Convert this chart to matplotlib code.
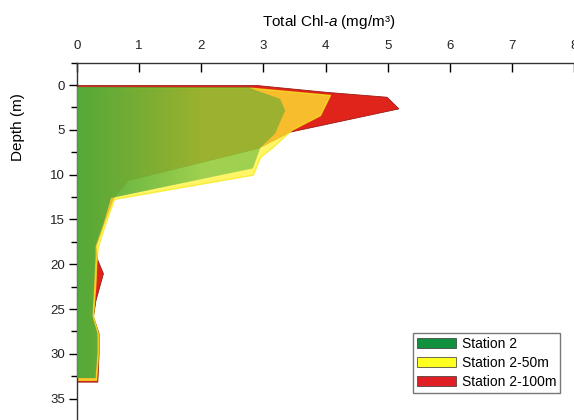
import numpy as np
import matplotlib.pyplot as plt
from matplotlib.patches import Patch
from matplotlib.ticker import MultipleLocator

plt.rcParams['font.family'] = ['Liberation Sans', 'DejaVu Sans']
plt.rcParams['mathtext.fontset'] = 'custom'
plt.rcParams['mathtext.it'] = 'Liberation Sans:italic'
plt.rcParams['mathtext.rm'] = 'Liberation Sans'

# Station 2 profile (depth in m, total Chl-a in mg/m3)
depth_s2 = [0.2, 0.4, 1.55, 2.85, 4.1, 5.4, 7.0, 9.3, 12.6, 15.4, 18.0, 19.1, 22.0, 25.8, 27.7, 30.0, 32.7]
chl_s2 = [2.81, 2.81, 3.27, 3.35, 3.27, 3.19, 2.95, 2.83, 0.55, 0.43, 0.30, 0.30, 0.28, 0.25, 0.33, 0.33, 0.30]

# Station 2-50m
depth_50 = [0.3, 1.1, 3.35, 5.0, 6.9, 8.0, 10.0, 12.7, 15.4, 18.0, 20.0, 22.0, 25.8, 27.7, 30.0, 32.9]
chl_50 = [2.81, 4.07, 3.91, 3.45, 3.15, 2.95, 2.83, 0.60, 0.46, 0.34, 0.31, 0.30, 0.26, 0.34, 0.34, 0.31]

# Station 2-100m
depth_100 = [0.0, 0.75, 1.3, 2.6, 5.2, 7.0, 10.6, 12.6, 15.4, 18.0, 19.5, 21.0, 22.0, 24.0, 25.8, 27.7, 30.0, 33.1]
chl_100 = [2.90, 4.00, 4.98, 5.17, 3.42, 2.91, 0.82, 0.58, 0.43, 0.30, 0.33, 0.42, 0.38, 0.30, 0.26, 0.35, 0.35, 0.33]

labels = ['Station 2', 'Station 2-50m', 'Station 2-100m']
legend_colors = ['#119040', '#ffff20', '#e01f25']

W, H = 574, 420
fig = plt.figure(figsize=(W / 100, H / 100), dpi=100)
ax = fig.add_axes([76.8 / W, (H - 430) / H, 500.7 / W, 367.3 / H])

ax.fill_betweenx(depth_100, 0, chl_100, facecolor='#e0241c',
                 edgecolor='#9a1a12', linewidth=0.6)
ax.fill_betweenx(depth_50, 0, chl_50, facecolor=(1, 0.95, 0.2), alpha=0.75,
                 edgecolor='#f4ea1a', linewidth=1.0)
green = ax.fill_betweenx(depth_s2, 0, chl_s2, facecolor=(0.17, 0.645, 0.2),
                         alpha=0.45, linewidth=0)

# green shading that fades out to the right, like the original figure
grad = np.zeros((1, 200, 4))
grad[..., 0], grad[..., 1], grad[..., 2] = 0.30, 0.66, 0.23
grad[..., 3] = np.linspace(0.9, 0.0, 200)
im = ax.imshow(grad, extent=[0, 2.0, 34, 0], aspect='auto', zorder=3)
im.set_clip_path(green.get_paths()[0], transform=ax.transData)

ax.set_xlim(0, 8.05)
ax.set_ylim(38.5, -2.5)
ax.xaxis.tick_top()
ax.set_xticks(range(9))
ax.set_yticks(range(0, 36, 5))
ax.yaxis.set_minor_locator(MultipleLocator(2.5))
ax.tick_params(axis='x', direction='in', length=6.5, width=1, pad=8,
               labelsize=9.5, labelcolor='#222')
ax.tick_params(axis='y', which='major', direction='out', length=5.7, width=1,
               pad=3, labelsize=9.5, labelcolor='#222')
ax.tick_params(axis='y', which='minor', direction='out', length=4, width=1)
for s in ['right', 'bottom']:
    ax.spines[s].set_visible(False)
for s in ['left', 'top']:
    ax.spines[s].set_color('#333')
    ax.spines[s].set_linewidth(1)

fig.text(329 / W, 1 - 21.7 / H, 'Total Chl-$\\mathit{a}$ (mg/m³)', ha='center',
         va='center', fontsize=11)
fig.text(18 / W, 1 - 127 / H, 'Depth (m)', rotation=90, ha='center',
         va='center', fontsize=11)

handles = [Patch(facecolor=c, edgecolor='#333', linewidth=0.5) for c in legend_colors]
fig.legend(handles, labels, loc='upper left', bbox_to_anchor=(413 / W, 1 - 333 / H),
           frameon=True, fancybox=False, edgecolor='#555', fontsize=10,
           handlelength=2.8, handleheight=0.7, labelspacing=0.35,
           borderpad=0.3, handletextpad=0.4, borderaxespad=0)

fig.savefig('out.png', dpi=100)
